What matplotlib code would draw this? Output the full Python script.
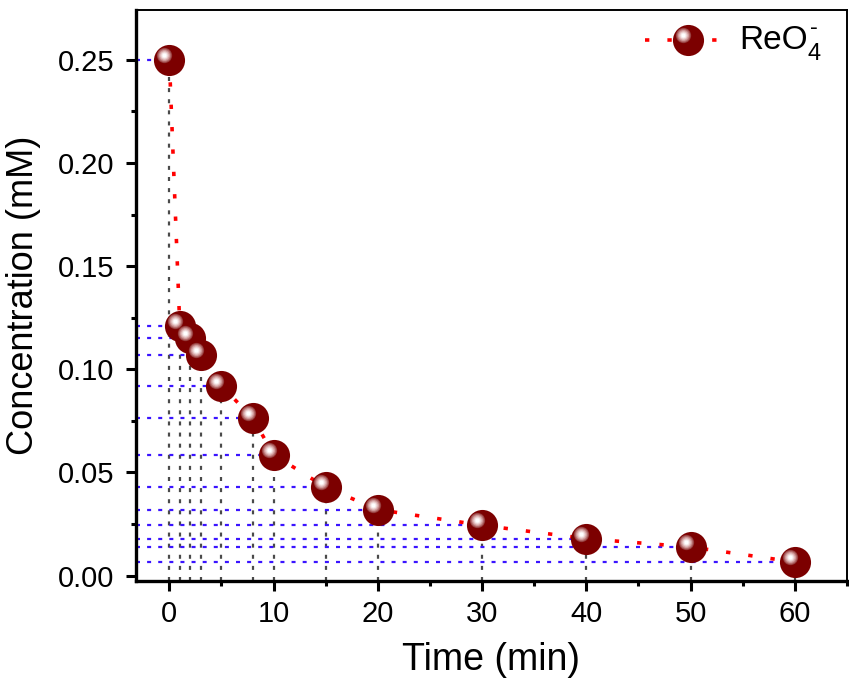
import matplotlib
matplotlib.use('Agg')
import matplotlib.pyplot as plt
from matplotlib.ticker import MultipleLocator
from matplotlib.transforms import offset_copy

plt.rcParams['font.family'] = ['Liberation Sans', 'DejaVu Sans']

# ReO4- concentration vs time
time = [0, 1, 2, 3, 5, 8, 10, 15, 20, 30, 40, 50, 60]
conc = [0.250, 0.121, 0.115, 0.107, 0.092, 0.0764, 0.0586,
        0.0428, 0.032, 0.0244, 0.0179, 0.0139, 0.0066]

xlim = (-3.2, 65)
ylim = (-0.0026, 0.2742)

body = '#7c0000'
# highlight layers (size in pt, colour), drawn from outside in
shine_layers = [(11.0, '#963c3c'), (9.6, '#b46a6a'), (8.0, '#cf9a9a'),
                (6.2, '#e6c6c6'), (4.4, '#f6eaea'), (2.8, '#ffffff')]

fig = plt.figure(figsize=(8.49, 6.96), dpi=100)
ax = fig.add_axes([136 / 849, 1 - 581 / 696, 711 / 849, 571 / 696])

# guide lines from each point to the axes
for t, c in zip(time, conc):
    ax.plot([xlim[0], t], [c, c], color='#3a14ff', lw=1.6,
            linestyle=(0, (1.8, 3.2)), zorder=1)
    ax.plot([t, t], [ylim[0], c], color='#4a4a4a', lw=1.6,
            linestyle=(0, (1.8, 3.2)), zorder=1)

ax.plot(time, conc, color='red', lw=2.6, linestyle=(0, (1.2, 5.0)), zorder=2)

# sphere-like markers: dark body plus a shifted highlight
shine = offset_copy(ax.transData, fig=fig, x=-5, y=5, units='dots')
ax.plot(time, conc, 'o', color=body, ms=22.4, mew=0, zorder=3)
for size, col in shine_layers:
    ax.plot(time, conc, 'o', color=col, ms=size, mew=0, zorder=4,
            transform=shine)

ax.set_xlim(*xlim)
ax.set_ylim(*ylim)
ax.xaxis.set_major_locator(MultipleLocator(10))
ax.xaxis.set_minor_locator(MultipleLocator(5))
ax.yaxis.set_major_locator(MultipleLocator(0.05))
ax.yaxis.set_minor_locator(MultipleLocator(0.025))
ax.yaxis.set_major_formatter(plt.FormatStrFormatter('%.2f'))

ax.tick_params(which='major', direction='out', length=7.5, width=2.2,
               labelsize=21, pad=6)
ax.tick_params(which='minor', direction='out', length=3.8, width=2.2)
ax.tick_params(axis='y', which='major', pad=8)
ax.tick_params(top=False, right=False, which='both')

for side in ['left', 'bottom']:
    ax.spines[side].set_linewidth(2.4)
for side in ['top', 'right']:
    ax.spines[side].set_linewidth(1.4)

ax.set_xlabel('Time (min)', fontsize=27, labelpad=10)
ax.set_ylabel('Concentration (mM)', fontsize=26, labelpad=12)

# legend drawn by hand so the marker keeps its highlight
ly = 0.947
ax.plot([0.716, 0.835], [ly, ly], transform=ax.transAxes,
        color='red', lw=2.6, linestyle=(0, (1.2, 5.0)), zorder=5)
ax.plot([0.776], [ly], 'o', transform=ax.transAxes, color=body,
        ms=22.4, mew=0, zorder=6)
leg_shine = offset_copy(ax.transAxes, fig=fig, x=-5, y=5, units='dots')
for size, col in shine_layers:
    ax.plot([0.776], [ly], 'o', color=col, ms=size, mew=0, zorder=7,
            transform=leg_shine)
ax.text(0.849, ly, 'ReO', transform=ax.transAxes,
        fontsize=24, va='center', ha='left')
ax.annotate('4', xy=(0.849, ly), xycoords='axes fraction',
            xytext=(49, -10), textcoords='offset points',
            fontsize=17, va='center', ha='left')
ax.annotate('-', xy=(0.849, ly), xycoords='axes fraction',
            xytext=(51, 9), textcoords='offset points',
            fontsize=17, va='center', ha='left')

plt.savefig('out.png', dpi=100)
